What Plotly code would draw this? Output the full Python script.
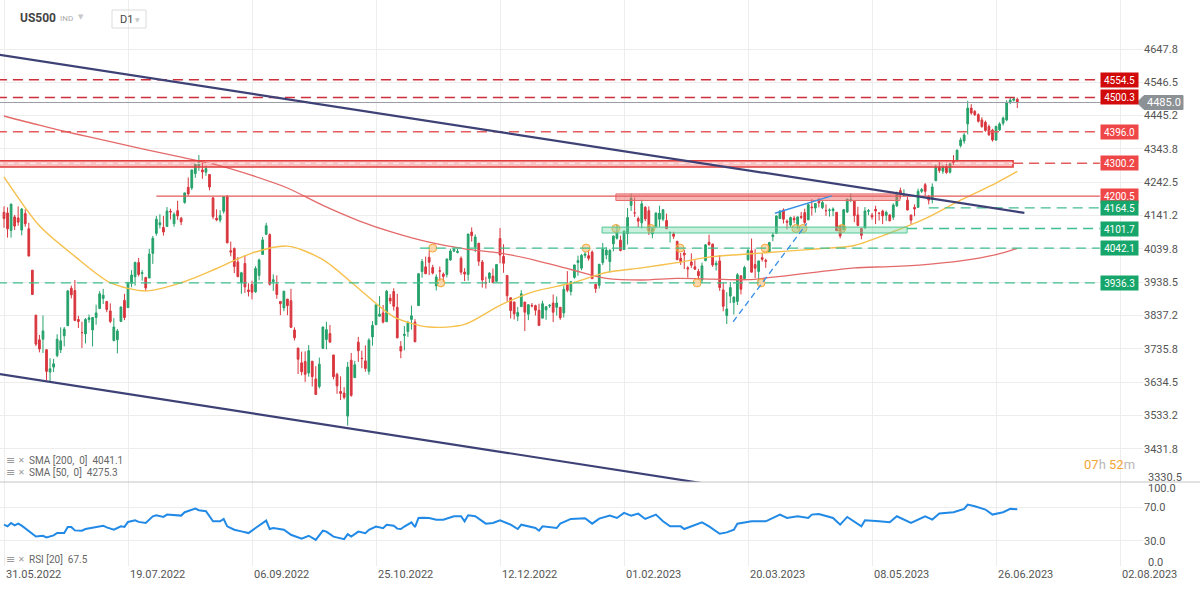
import plotly.graph_objects as go

# ---------------- data ----------------
tick_bars = [0, 35, 70, 105, 140, 175, 210, 245, 280, 315]
tick_dates = ["31.05.2022", "19.07.2022", "06.09.2022", "25.10.2022", "12.12.2022",
              "01.02.2023", "20.03.2023", "08.05.2023", "26.06.2023", "02.08.2023"]

opens = [4151,4149,4096,4137,4134,4097,4147,4101,3975,3838,
3763,3765,3733,3665,3680,3715,3733,3775,3806,3920,
3913,3825,3785,3781,3825,3793,3831,3858,3889,3880,
3851,3761,3763,3819,3883,3861,3935,3955,3998,3965,
3953,3951,4026,4087,4113,4105,4108,4154,4116,4156,
4133,4181,4227,4225,4269,4290,4280,4273,4266,4195,
4133,4127,4154,4199,4034,4041,4000,3937,3995,3915,
3931,3909,3959,4023,4084,4083,3940,3932,3880,3860,
3887,3882,3793,3738,3693,3697,3662,3698,3644,3621,
3737,3764,3782,3717,3658,3606,3601,3531,3701,3648,
3756,3707,3699,3667,3772,3809,3835,3845,3818,3890,
3910,3862,3743,3776,3788,3825,3817,3867,3971,3985,
4014,3983,3927,3973,3963,3962,4006,4033,4029,4011,
3969,3962,4091,4045,4057,4000,3937,3950,3957,3941,
4071,4017,3959,3891,3878,3835,3864,3878,3841,3868,
3867,3853,3829,3854,3866,3875,3862,3862,3845,3931,
3910,3953,3998,3981,4020,4019,4030,3932,3929,3998,
4021,4001,4055,4072,4066,4038,4086,4172,4149,4132,
4119,4166,4156,4085,4108,4130,4130,4126,4089,4085,
4063,4011,4027,3982,4000,3985,3971,3945,4004,4060,
4054,3991,4003,3915,3837,3896,3877,3880,3958,3949,
4007,4034,3992,3971,4013,4005,4030,4077,4087,4132,
4158,4124,4112,4133,4113,4138,4150,4128,4167,4164,
4190,4165,4156,4157,4156,4151,4110,4098,4152,4187,
4185,4143,4102,4103,4154,4142,4160,4149,4155,4142,
4143,4136,4171,4217,4202,4188,4143,4166,4166,4215,
4235,4199,4190,4247,4287,4276,4289,4273,4307,4307,
4354,4368,4420,4468,4458,4448,4432,4425,4412,4401,
4371,4402,4422,4432,4486,4492,4495]

highs = [4169,4166,4177,4143,4169,4164,4160,4119,3975,3839,
3778,3837,3733,3707,3705,3780,3801,3802,3913,3928,
3945,3836,3818,3829,3840,3832,3870,3911,3918,3880,
3874,3829,3796,3864,3903,3940,3975,3999,4012,3975,
3953,4040,4079,4140,4145,4140,4167,4162,4151,4186,
4137,4211,4257,4280,4301,4325,4302,4293,4266,4196,
4160,4157,4200,4204,4062,4044,4015,3970,4019,3935,
3943,3987,4010,4076,4119,4087,3962,3959,3880,3912,
3887,3918,3801,3738,3727,3728,3747,3698,3683,3709,
3803,3818,3808,3717,3663,3652,3619,3696,3723,3699,
3772,3730,3746,3768,3820,3872,3896,3869,3915,3902,
3920,3903,3759,3805,3821,3867,3826,3966,4009,4016,
4035,3991,3962,3986,3968,4010,4040,4043,4040,4017,
3981,4085,4105,4084,4057,4006,3955,3969,3980,3993,
4103,4054,3959,3891,3879,3863,3914,3878,3870,3875,
3870,3873,3882,3864,3872,3901,3895,3862,3928,3972,
3940,3991,4019,4024,4030,4036,4035,3932,3993,4058,
4045,4039,4080,4114,4080,4094,4164,4208,4196,4138,
4189,4170,4169,4106,4150,4171,4160,4147,4092,4092,
4063,4027,4037,3987,4026,4005,3979,3998,4054,4083,
4056,4004,4021,3937,3908,3939,3895,3966,3958,3988,
4041,4071,4039,4004,4027,4010,4061,4089,4141,4158,
4163,4129,4138,4140,4138,4152,4162,4178,4191,4178,
4195,4188,4175,4163,4166,4152,4112,4161,4192,4208,
4186,4168,4103,4167,4161,4149,4171,4149,4159,4156,
4145,4178,4212,4226,4221,4198,4143,4175,4223,4225,
4240,4204,4239,4296,4304,4294,4303,4302,4325,4342,
4378,4392,4490,4480,4462,4452,4440,4430,4418,4405,
4415,4425,4442,4492,4500,4500,4500]

lows = [4104,4074,4074,4097,4110,4081,4107,4017,3900,3744,
3725,3723,3640,3637,3665,3710,3723,3743,3806,3889,
3820,3799,3738,3752,3815,3743,3809,3858,3872,3847,
3814,3758,3722,3818,3823,3860,3923,3928,3956,3943,
3911,3951,3994,4080,4102,4080,4108,4129,4107,4128,
4112,4177,4201,4219,4256,4277,4253,4262,4218,4130,
4124,4120,4147,4057,4017,3966,3954,3903,3906,3895,
3886,3906,3944,4022,4083,3928,3912,3888,3838,3850,
3838,3800,3761,3659,3655,3635,3651,3621,3595,3615,
3737,3734,3755,3643,3599,3580,3582,3502,3590,3648,
3696,3677,3666,3657,3745,3809,3834,3813,3818,3872,
3852,3768,3707,3731,3772,3794,3756,3867,3952,3964,
3960,3962,3913,3943,3940,3953,4004,4030,4026,3961,
3942,3943,4062,4030,3988,3922,3919,3936,3936,3939,
3996,3967,3880,3828,3825,3820,3864,3790,3823,3862,
3837,3807,3829,3824,3860,3817,3837,3824,3831,3908,
3898,3949,3958,3975,4012,4004,3949,3906,3919,3991,
4008,3968,4032,4068,4032,4037,4053,4155,4137,4106,
4102,4124,4082,4072,4105,4107,4124,4100,4059,4070,
4005,3991,3978,3952,3982,3976,3946,3936,4002,4049,
3985,3974,3912,3850,3811,3875,3840,3869,3901,3948,
4003,3968,3951,3941,4001,3982,4030,4063,4087,4131,
4117,4099,4106,4118,4100,4130,4114,4127,4141,4150,
4166,4161,4140,4138,4139,4094,4072,4098,4149,4182,
4121,4108,4069,4103,4142,4129,4115,4126,4115,4125,
4124,4128,4167,4193,4199,4157,4115,4139,4164,4210,
4201,4175,4178,4247,4271,4268,4268,4269,4295,4307,
4348,4360,4388,4448,4444,4424,4408,4396,4383,4366,
4368,4398,4415,4428,4480,4488,4468]

closes = [4132,4101,4176,4109,4121,4161,4116,4018,3901,3750,
3735,3790,3667,3675,3690,3765,3760,3796,3912,3900,
3822,3819,3785,3825,3830,3831,3845,3903,3899,3855,
3819,3802,3790,3863,3831,3937,3960,3999,3962,3967,
3921,4024,4072,4130,4119,4091,4155,4152,4145,4140,
4122,4210,4207,4280,4297,4305,4274,4284,4228,4138,
4128,4141,4199,4058,4030,3986,3955,3967,3924,3910,
3908,3980,4006,4067,4110,3932,3946,3901,3873,3911,
3867,3801,3769,3704,3666,3658,3730,3651,3597,3689,
3802,3794,3756,3651,3623,3600,3588,3680,3594,3687,
3730,3706,3676,3762,3807,3869,3841,3817,3911,3881,
3865,3769,3729,3780,3815,3836,3757,3964,4001,3964,
3999,3966,3954,3972,3956,4009,4033,4038,4032,3969,
3963,4085,4080,4076,4002,3945,3936,3966,3937,3992,
4021,3996,3897,3852,3842,3846,3903,3847,3870,3866,
3853,3807,3873,3864,3868,3847,3875,3830,3917,3914,
3940,3991,4004,4020,4024,4011,3949,3919,3993,4039,
4036,4035,4079,4090,4035,4094,4135,4193,4149,4124,
4177,4131,4094,4102,4149,4148,4159,4101,4090,4078,
4007,4001,4021,3979,3990,3978,3958,3988,4052,4053,
3991,3996,3922,3865,3857,3922,3893,3961,3917,3983,
4035,3969,3981,4003,4008,4002,4059,4082,4140,4154,
4130,4121,4135,4128,4137,4136,4120,4174,4165,4178,
4180,4181,4156,4158,4161,4095,4079,4159,4191,4189,
4141,4111,4081,4155,4156,4137,4155,4148,4140,4151,
4125,4173,4212,4205,4205,4158,4127,4161,4215,4220,
4215,4188,4228,4288,4278,4289,4272,4298,4302,4340,
4371,4386,4468,4453,4448,4428,4412,4400,4387,4371,
4412,4420,4438,4484,4492,4496,4485]

bars = list(range(len(closes)))

sma_bars = [0,10,20,30,40,50,60,70,80,90,100,110,120,130,140,150,160,170,180,190,
            200,210,220,230,240,250,260,270,280,286]
sma200 = [4444,4416,4390,4366,4342,4319,4295,4263,4225,4172,4126,4089,4060,4040,4027,
          4005,3977,3950,3945,3950,3948,3946,3957,3970,3982,3986,3992,4003,4022,4041.1]
sma50 = [4259,4110,4017,3937,3912,3937,3980,4027,4048,4007,3920,3833,3802,3810,3868,
         3911,3935,3968,3982,3998,4016,4024,4032,4040,4050,4088,4132,4188,4240,4275.3]

rsi_bars = [0,1,2,3,4,5,9,11,12,14,15,17,18,19,20,22,23,26,28,29,31,33,34,35,37,38,40,42,43,45,
            46,50,51,54,55,57,59,61,62,63,65,67,69,71,74,75,76,79,81,84,86,88,90,91,93,96,97,98,
            100,102,103,105,107,108,110,111,112,113,114,115,116,117,118,120,122,124,127,129,130,
            131,133,136,138,140,143,145,146,150,151,152,156,157,160,164,166,168,171,173,175,177,
            179,181,184,186,188,191,192,197,199,202,204,206,207,211,215,219,221,224,227,228,230,
            234,236,238,242,243,247,250,252,256,260,262,264,268,271,272,274,277,279,282,284,286]
rsi_vals = [49.2,47.2,51.2,48.4,50.4,48,35.2,36,34,36.4,39.3,39.3,46.5,46.5,42.4,42,44,46,48,46,
            43.2,47.2,46.5,52.5,54.4,52.5,51.2,59.2,60.4,58.5,61.2,60,64,68.4,66.4,65.2,53.2,53.2,
            56,47.2,43.2,41.2,39.2,45.2,54,44,45.2,43.2,37.2,32.4,36,31,42,41,35,32,38,35,
            41,39,43,47,45,49,48,44.5,44,47,49.2,52,46.4,57.2,57.5,57.2,55.2,55.2,59.2,59.2,53.2,
            60.4,59.2,50.4,51.2,54.4,49.2,44,49.2,45.2,42,47.2,45.2,50.4,56,56.8,50.4,56.4,60,57.2,
            63.2,60,62.4,56,61.2,53.2,47.2,47.2,44,52,47.2,38.4,40,43.2,50.4,53.2,53.2,61.2,57.2,
            59.2,57.2,61.2,62,57.2,49.2,58.4,47.2,54.4,53.2,52,59.2,51.2,59.2,55.2,62.4,64,68,73.2,
            71.2,67.2,61.2,64,68,67.5]

price_ticks = [3431.8, 3533.2, 3634.5, 3735.8, 3837.2, 3938.5, 4039.8, 4141.2,
               4242.5, 4343.8, 4445.2, 4546.5, 4647.8]
price_bottom_label = 3330.5
rsi_ticks = [30, 70]

# horizontal levels drawn on the chart
level_values = [4554.5, 4500.3, 4396.0, 4300.2, 4200.5, 4164.5, 4101.7, 4042.1, 3936.3]
level_kinds = ["strong", "strong", "res", "res", "res", "sup", "sup", "sup", "sup"]
level_start = [-2, -2, -2, 284.8, 43, 261, 254.9, 117.4, -2]
level_dash = ["dash", "dash", "dash", "dash", "solid", "dash", "dash", "dash", "dash"]
level_end = 309.3

zone_lo = [4289, 4187, 4088]
zone_hi = [4308, 4207, 4106]
zone_x0 = [-2, 172.7, 168.8]
zone_x1 = [284.8, 252.9, 254.9]
zone_kind = ["res_strong", "res", "sup"]

trend_upper = ([-1.2, 288], [4630, 4149])
trend_lower = ([-1.2, 200], [3659, 3322])
blue_dashed = ([205.8, 226.6], [3818, 4117])
blue_solid = ([217.6, 233.6], [4148, 4201])

touch_bars = [121, 123.3, 164.3, 172.7, 182.6, 190.8, 195.6, 213.7, 214.8, 223.5, 225.5, 236.5]
touch_prices = [4042.1, 3936.3, 4042.1, 4101.7, 4101.7, 4042.1, 3936.3, 3936.3, 4042.1,
                4101.7, 4101.7, 4101.7]

last_price = 4485.0
sma200_last = 4041.1
sma50_last = 4275.3
rsi_last = 67.5

# ---------------- layout geometry ----------------
W, H = 1200, 590
ML, MR, MT, MB = 0, 57, 0, 24
PW, PH = W - ML - MR, H - MT - MB
SPLIT = 482          # px where price pane ends
X0_PX, BAR_PX = 4.0, 3.543

def px(x):
    return (x - ML) / PW

def py(y):
    return (PH - (y - MT)) / PH

x_range = [-X0_PX / BAR_PX, (PW - X0_PX) / BAR_PX]

GREEN = "#26a26b"
RED = "#d9363e"
GRID = "#ededed"
FONT = "Roboto"
colors_line = {"strong": "#cf2f3b", "res": "#e55a5a", "sup": "#3fbf8e"}
colors_box = {"strong": "#d10a0a", "res": "#ef4747", "sup": "#16a56a"}

fig = go.Figure()

fig.add_trace(go.Candlestick(
    x=bars, open=opens, high=highs, low=lows, close=closes,
    increasing=dict(line=dict(color=GREEN, width=1), fillcolor=GREEN),
    decreasing=dict(line=dict(color=RED, width=1), fillcolor=RED),
    whiskerwidth=0, showlegend=False, hoverinfo="skip", xaxis="x", yaxis="y"))

fig.add_trace(go.Scatter(x=sma_bars, y=sma200, mode="lines", line=dict(color="#e46a6a", width=1.3, shape="spline", smoothing=0.8),
                         showlegend=False, hoverinfo="skip", xaxis="x", yaxis="y"))
fig.add_trace(go.Scatter(x=sma_bars, y=sma50, mode="lines", line=dict(color="#f6c04c", width=1.4, shape="spline", smoothing=0.8),
                         showlegend=False, hoverinfo="skip", xaxis="x", yaxis="y"))

fig.add_trace(go.Scatter(x=touch_bars, y=touch_prices, mode="markers",
                         marker=dict(size=8, color="rgba(247,170,70,0.45)", line=dict(color="#f5a83a", width=1)),
                         showlegend=False, hoverinfo="skip", xaxis="x", yaxis="y"))

fig.add_trace(go.Scatter(x=rsi_bars, y=rsi_vals, mode="lines", line=dict(color="#2189e6", width=2),
                         showlegend=False, hoverinfo="skip", xaxis="x2", yaxis="y2"))

shapes = []
# zones
for lo, hi, a, b, k in zip(zone_lo, zone_hi, zone_x0, zone_x1, zone_kind):
    if k == "res_strong":
        fill, edge, lw = "rgba(240,120,120,0.45)", "#e23b3b", 1.6
    elif k == "res":
        fill, edge, lw = "rgba(240,110,110,0.5)", "#e86a6a", 1
    else:
        fill, edge, lw = "rgba(120,215,170,0.4)", "#52c796", 1
    shapes.append(dict(type="rect", xref="x", yref="y", x0=a, x1=b, y0=lo, y1=hi,
                       fillcolor=fill, line=dict(color=edge, width=lw), layer="above"))
# the strong zone has a light dashed mid line
shapes.append(dict(type="line", xref="x", yref="y", x0=zone_x0[0], x1=zone_x1[0],
                   y0=level_values[3], y1=level_values[3],
                   line=dict(color="rgba(255,255,255,0.85)", width=1.2, dash="6px,5px")))

# levels
for v, k, s, d in zip(level_values, level_kinds, level_start, level_dash):
    shapes.append(dict(type="line", xref="x", yref="y", x0=s, x1=level_end, y0=v, y1=v,
                       line=dict(color=colors_line[k], width=1.4 if k != "res" or d == "dash" else 1.2,
                                 dash="10px,6px" if d == "dash" else "solid")))

# last price line
shapes.append(dict(type="line", xref="x", yref="y", x0=x_range[0], x1=x_range[1], y0=last_price, y1=last_price,
                   line=dict(color="#9a9ea4", width=1)))

# trend lines
shapes.append(dict(type="line", xref="x", yref="y", x0=trend_upper[0][0], x1=trend_upper[0][1],
                   y0=trend_upper[1][0], y1=trend_upper[1][1], line=dict(color="#3d4175", width=2.2)))
shapes.append(dict(type="line", xref="x", yref="y", x0=trend_lower[0][0], x1=trend_lower[0][1],
                   y0=trend_lower[1][0], y1=trend_lower[1][1], line=dict(color="#3d4175", width=2.2)))
shapes.append(dict(type="line", xref="x", yref="y", x0=blue_dashed[0][0], x1=blue_dashed[0][1],
                   y0=blue_dashed[1][0], y1=blue_dashed[1][1], line=dict(color="#3b8fe3", width=1.3, dash="6px,4px")))
shapes.append(dict(type="line", xref="x", yref="y", x0=blue_solid[0][0], x1=blue_solid[0][1],
                   y0=blue_solid[1][0], y1=blue_solid[1][1], line=dict(color="#3b8fe3", width=1.5)))

# pane separator
shapes.append(dict(type="line", xref="paper", yref="paper", x0=0, x1=px(W), y0=py(SPLIT), y1=py(SPLIT),
                   line=dict(color="#c4c4c4", width=1)))

# last price tag
tag_path = "M {} {} L {} {} L {} {} L {} {} L {} {} Z".format(
    px(1137), py(102.5), px(1144), py(95.5), px(1183), py(95.5), px(1183), py(109.5), px(1144), py(109.5))
shapes.append(dict(type="path", xref="paper", yref="paper", path=tag_path,
                   fillcolor="#8c9196", line=dict(color="#8c9196", width=1)))

# timeframe box in header
shapes.append(dict(type="rect", xref="paper", yref="paper", x0=px(112), x1=px(146), y0=py(10), y1=py(28),
                   line=dict(color="#dcdcdc", width=1), fillcolor="rgba(0,0,0,0)"))

annotations = []
# level boxes
for v, k in zip(level_values, level_kinds):
    annotations.append(dict(xref="paper", yref="y", x=px(1100), y=v, xanchor="left", yanchor="middle",
                            text="{:.1f}".format(v), showarrow=False,
                            font=dict(family=FONT, size=10, color="white"),
                            bgcolor=colors_box[k], width=35, height=12, borderpad=1, align="center"))
# last price text
annotations.append(dict(xref="paper", yref="y", x=px(1145), y=last_price, xanchor="left", yanchor="middle",
                        text="{:.1f}".format(last_price), showarrow=False,
                        font=dict(family=FONT, size=11, color="white")))
# axis edge labels
annotations.append(dict(xref="paper", yref="paper", x=px(1146), y=py(477), xanchor="left", yanchor="middle",
                        text="{:.1f}".format(price_bottom_label), showarrow=False,
                        font=dict(family=FONT, size=11, color="#555")))
annotations.append(dict(xref="paper", yref="paper", x=px(1146), y=py(488), xanchor="left", yanchor="middle",
                        text="100.0", showarrow=False, font=dict(family=FONT, size=11, color="#555")))
annotations.append(dict(xref="paper", yref="paper", x=px(1146), y=py(562), xanchor="left", yanchor="middle",
                        text="0.0", showarrow=False, font=dict(family=FONT, size=11, color="#555")))
# date labels (left-aligned at the grid line)
for b, t in zip(tick_bars, tick_dates):
    annotations.append(dict(xref="x", yref="paper", x=b, y=py(574.5), xanchor="left", yanchor="middle",
                            text=t, showarrow=False, font=dict(family=FONT, size=11, color="#555")))
# header
annotations.append(dict(xref="paper", yref="paper", x=px(18), y=py(18), xanchor="left", yanchor="middle",
                        text="<b>US500</b>", showarrow=False, font=dict(family=FONT, size=12, color="#444")))
annotations.append(dict(xref="paper", yref="paper", x=px(58), y=py(18.5), xanchor="left", yanchor="middle",
                        text="IND", showarrow=False, font=dict(family=FONT, size=8, color="#aaa")))
annotations.append(dict(xref="paper", yref="paper", x=px(76), y=py(17), xanchor="left", yanchor="middle",
                        text="▼", showarrow=False, font=dict(family="DejaVu Sans", size=7, color="#c8c8c8")))
annotations.append(dict(xref="paper", yref="paper", x=px(118), y=py(19), xanchor="left", yanchor="middle",
                        text="D1", showarrow=False, font=dict(family=FONT, size=11, color="#444")))
annotations.append(dict(xref="paper", yref="paper", x=px(133), y=py(19), xanchor="left", yanchor="middle",
                        text="▼", showarrow=False, font=dict(family="DejaVu Sans", size=6, color="#c8c8c8")))
# indicator legends
legend_rows = [(460, "SMA [200,  0]  {:.1f}".format(sma200_last)),
               (473, "SMA [50,  0]  {:.1f}".format(sma50_last)),
               (559, "RSI [20]  {:.1f}".format(rsi_last))]
for yy, txt in legend_rows:
    annotations.append(dict(xref="paper", yref="paper", x=px(4), y=py(yy), xanchor="left", yanchor="middle",
                            text="≡", showarrow=False, font=dict(family="DejaVu Sans", size=11, color="#9a9a9a")))
    annotations.append(dict(xref="paper", yref="paper", x=px(16), y=py(yy), xanchor="left", yanchor="middle",
                            text="✕", showarrow=False, font=dict(family="DejaVu Sans", size=8, color="#9a9a9a")))
    annotations.append(dict(xref="paper", yref="paper", x=px(27), y=py(yy), xanchor="left", yanchor="middle",
                            text=txt, showarrow=False, font=dict(family=FONT, size=10, color="#666")))
# countdown
annotations.append(dict(xref="paper", yref="paper", x=px(1137), y=py(464), xanchor="right", yanchor="middle",
                        text='<span style="color:#f3a536">07</span><span style="color:#b8b8b8">h </span>'
                             '<span style="color:#f3a536">52</span><span style="color:#b8b8b8">m</span>',
                        showarrow=False, font=dict(family=FONT, size=13)))

fig.update_layout(
    width=W, height=H, margin=dict(l=ML, r=MR, t=MT, b=MB),
    paper_bgcolor="white", plot_bgcolor="white",
    showlegend=False, shapes=shapes, annotations=annotations,
    font=dict(family=FONT, size=11, color="#555"),
    xaxis=dict(domain=[0, 1], anchor="y", range=x_range, tickvals=tick_bars, showticklabels=False,
               showgrid=True, gridcolor=GRID, zeroline=False, showline=False, ticks="",
               rangeslider=dict(visible=False), fixedrange=True),
    yaxis=dict(domain=[py(SPLIT), 1], anchor="x", side="right", range=[3330.5, 4796.9],
               tickvals=price_ticks, ticktext=["{:.1f}".format(v) for v in price_ticks],
               showgrid=True, gridcolor=GRID, zeroline=False, showline=False, ticks="",
               tickfont=dict(family=FONT, size=11, color="#555"), fixedrange=True),
    xaxis2=dict(domain=[0, 1], anchor="y2", matches="x", range=x_range, tickvals=tick_bars,
                showticklabels=False, showgrid=True, gridcolor=GRID, zeroline=False, showline=False,
                ticks="", fixedrange=True),
    yaxis2=dict(domain=[0, py(SPLIT)], anchor="x2", side="right", range=[0, 100],
                tickvals=rsi_ticks, ticktext=["{:.1f}".format(v) for v in rsi_ticks],
                showgrid=True, gridcolor=GRID, zeroline=False, showline=False, ticks="",
                tickfont=dict(family=FONT, size=11, color="#555"), fixedrange=True),
)

fig.write_html("out.html", config={"displayModeBar": False},
               post_script="document.body.style.margin='0';document.body.style.overflow='hidden';")
